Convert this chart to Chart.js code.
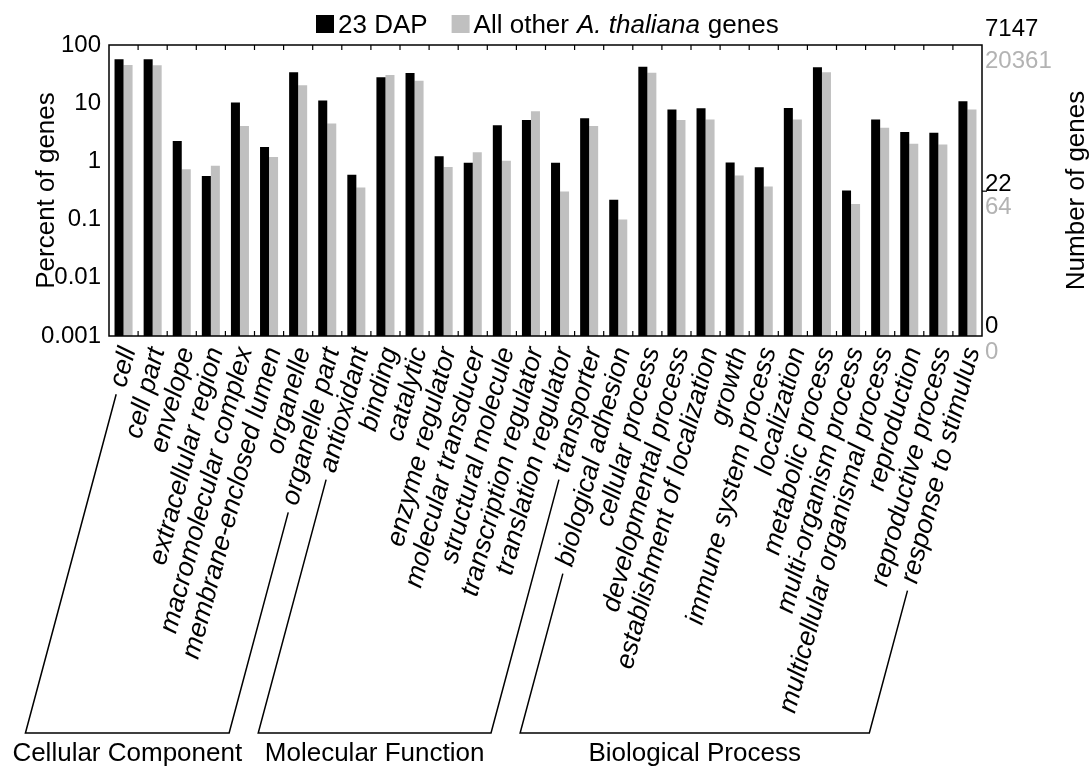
<!DOCTYPE html>
<html>
<head>
<meta charset="utf-8">
<title>GO categories, 23 DAP</title>
<script src="https://cdn.jsdelivr.net/npm/chart.js@4.4.0/dist/chart.umd.min.js"></script>
<style>
  html, body { margin: 0; padding: 0; background: #fff; }
  #wrap { width: 1092px; height: 767px; position: relative; }
</style>
</head>
<body>
<div id="wrap"><canvas id="chart"></canvas></div>
<script>
const categories = [
  "cell", "cell part", "envelope", "extracellular region", "macromolecular complex",
  "membrane-enclosed lumen", "organelle", "organelle part",
  "antioxidant", "binding", "catalytic", "enzyme regulator", "molecular transducer",
  "structural molecule", "transcription regulator", "translation regulator", "transporter",
  "biological adhesion", "cellular process", "developmental process",
  "establishment of localization", "growth", "immune system process", "localization",
  "metabolic process", "multi-organism process", "multicellular organismal process",
  "reproduction", "reproductive process", "response to stimulus"
];

// percent of genes
const dap23 = [
  57, 57, 2.24, 0.56, 10.3, 1.76, 33.9, 11.1,
  0.59, 27.8, 33, 1.22, 0.95, 4.16, 5.14, 0.95, 5.49,
  0.22, 42.4, 7.83, 8.15, 0.96, 0.79, 8.26, 41.3, 0.317, 5.27, 3.19, 3.11, 10.8
];
const allOther = [
  45.3, 45, 0.73, 0.84, 4.05, 1.19, 20.3, 4.5,
  0.357, 30.5, 24.4, 0.80, 1.43, 1.03, 7.24, 0.305, 4.05,
  0.10, 33.4, 5.14, 5.27, 0.574, 0.37, 5.27, 33.9, 0.185, 3.79, 2.01, 1.96, 7.83
];

const leftTicks = [0.001, 0.01, 0.1, 1, 10, 100];
const leftTickLabels = ["0.001", "0.01", "0.1", "1", "10", "100"];

// right axis: number of genes
const rightCounts23 = [0, 22, 7147];
const rightCountsOther = [0, 64, 20361];
const total23 = 7147;

const groupNames = ["Cellular Component", "Molecular Function", "Biological Process"];
const groupFirst = [0, 8, 17];
const groupLast = [7, 16, 29];

const FONT = '"Liberation Sans", Arial, Helvetica, sans-serif';
const BLACK = '#000000';
const GRAY = '#c0c0c0';
const GRAY_TEXT = '#b3b3b3';
const ROT = 75 * Math.PI / 180;
const LABEL_SIZE = 26.5;
const LABEL_OFFSET = 5;
const LABEL_PAD = 8;
const BRACKET_Y = 733;
const BLACK_LIFT = [3, 0, 9]; // how far the black count sits above its tick

function pctForCount(c) {
  return c === 0 ? leftTicks[0] : c / total23 * 100;
}

// where chart.js puts the upper end of a rotated x label
function labelEnd(chart, i) {
  const x = chart.scales.x;
  const lh = LABEL_SIZE * 1.2;
  return { x: x.getPixelForValue(i) + LABEL_OFFSET, y: x.top + LABEL_PAD + Math.cos(ROT) * lh / 2 };
}

function bracketLeg(ctx, chart, i) {
  const r = labelEnd(chart, i);
  ctx.font = 'italic ' + LABEL_SIZE + 'px ' + FONT;
  const w = ctx.measureText(categories[i]).width + 8;
  const dx = -Math.cos(ROT), dy = Math.sin(ROT);
  const sx = r.x + dx * w, sy = r.y + dy * w;
  const ex = sx + dx * (BRACKET_Y - sy) / dy;
  return { sx, sy, ex };
}

const decor = {
  id: 'decor',
  afterDraw(chart) {
    const { ctx, chartArea: a, scales: { x, y2 } } = chart;
    ctx.save();

    // frame
    ctx.strokeStyle = BLACK;
    ctx.lineWidth = 1.5;
    ctx.strokeRect(a.left, a.top, a.right - a.left, a.bottom - a.top);

    // inward ticks between categories
    ctx.lineWidth = 1.2;
    ctx.beginPath();
    for (let i = 1; i < categories.length; i++) {
      const bx = (x.getPixelForValue(i - 1) + x.getPixelForValue(i)) / 2;
      ctx.moveTo(bx, a.top); ctx.lineTo(bx, a.top + 5);
      ctx.moveTo(bx, a.bottom); ctx.lineTo(bx, a.bottom - 5);
    }
    ctx.stroke();

    // right axis, two colour labels
    ctx.font = '24px ' + FONT;
    ctx.textAlign = 'left';
    ctx.textBaseline = 'alphabetic';
    rightCounts23.forEach((c, k) => {
      const py = y2.getPixelForValue(pctForCount(c));
      if (k > 0 && k < rightCounts23.length - 1) {
        ctx.beginPath();
        ctx.moveTo(a.right, py); ctx.lineTo(a.right + 5, py);
        ctx.stroke();
      }
      ctx.fillStyle = BLACK;
      ctx.fillText(String(c), a.right + 3, py - BLACK_LIFT[k]);
      ctx.fillStyle = GRAY_TEXT;
      ctx.fillText(String(rightCountsOther[k]), a.right + 3, py + 23);
    });

    // right axis title, reading upwards
    ctx.save();
    ctx.translate(1077, (a.top + a.bottom) / 2);
    ctx.rotate(-Math.PI / 2);
    ctx.fillStyle = BLACK;
    ctx.font = '26px ' + FONT;
    ctx.textAlign = 'center';
    ctx.textBaseline = 'middle';
    ctx.fillText('Number of genes', 0, 0);
    ctx.restore();

    // legend
    const parts = [
      { box: BLACK }, { t: '23 DAP' }, { gap: 24 }, { box: GRAY },
      { t: 'All other' }, { gap: 8 }, { t: 'A. thaliana', it: true }, { gap: 8 }, { t: 'genes' }
    ];
    const fontOf = p => (p.it ? 'italic ' : '') + '26px ' + FONT;
    let lx = 316;
    ctx.textAlign = 'left';
    ctx.textBaseline = 'alphabetic';
    parts.forEach(p => {
      if (p.box) {
        ctx.fillStyle = p.box;
        ctx.fillRect(lx, 15, 18, 18);
        lx += 18 + 4;
      } else if (p.gap) {
        lx += p.gap;
      } else {
        ctx.font = fontOf(p);
        ctx.fillStyle = BLACK;
        ctx.fillText(p.t, lx, 33);
        lx += ctx.measureText(p.t).width;
      }
    });

    // group brackets
    ctx.strokeStyle = BLACK;
    ctx.lineWidth = 1.5;
    groupNames.forEach((name, g) => {
      const l = bracketLeg(ctx, chart, groupFirst[g]);
      const r = bracketLeg(ctx, chart, groupLast[g]);
      ctx.beginPath();
      ctx.moveTo(l.sx, l.sy);
      ctx.lineTo(l.ex, BRACKET_Y);
      ctx.lineTo(r.ex, BRACKET_Y);
      ctx.lineTo(r.sx, r.sy);
      ctx.stroke();
      ctx.font = '26px ' + FONT;
      ctx.fillStyle = BLACK;
      ctx.textAlign = 'center';
      ctx.textBaseline = 'alphabetic';
      ctx.fillText(name, (l.ex + r.ex) / 2, BRACKET_Y + 28);
    });

    ctx.restore();
  }
};

new Chart(document.getElementById('chart'), {
  type: 'bar',
  data: {
    labels: categories,
    datasets: [
      { label: '23 DAP', data: dap23, backgroundColor: BLACK, borderWidth: 0, yAxisID: 'y' },
      { label: 'All other A. thaliana genes', data: allOther, backgroundColor: GRAY, borderWidth: 0, yAxisID: 'y' }
    ]
  },
  options: {
    responsive: true,
    maintainAspectRatio: false,
    animation: false,
    devicePixelRatio: 1,
    layout: { padding: { top: 45, left: 0, right: 0, bottom: 0 } },
    datasets: { bar: { categoryPercentage: 0.62, barPercentage: 1.0 } },
    plugins: {
      legend: { display: false },
      tooltip: { enabled: false }
    },
    scales: {
      x: {
        type: 'category',
        grid: { display: false, drawTicks: false },
        border: { display: false },
        afterFit: s => { s.height = 767 - 336; },
        ticks: {
          autoSkip: false,
          minRotation: 75,
          maxRotation: 75,
          labelOffset: LABEL_OFFSET,
          padding: LABEL_PAD,
          color: BLACK,
          font: { size: LABEL_SIZE, style: 'italic', family: FONT }
        }
      },
      y: {
        type: 'logarithmic',
        position: 'left',
        min: 0.001,
        max: 100,
        afterBuildTicks: s => { s.ticks = leftTicks.map(v => ({ value: v })); },
        afterFit: s => { s.width = 109; },
        grid: { display: false, drawTicks: false },
        border: { display: false },
        ticks: {
          autoSkip: false,
          padding: 8,
          color: BLACK,
          font: { size: 24, family: FONT },
          callback: (v, i) => leftTickLabels[i]
        },
        title: {
          display: true,
          text: 'Percent of genes',
          color: BLACK,
          font: { size: 26, family: FONT },
          padding: { top: 31, bottom: 0 }
        }
      },
      y2: {
        type: 'logarithmic',
        position: 'right',
        min: 0.001,
        max: 100,
        afterBuildTicks: s => { s.ticks = rightCounts23.map(c => ({ value: pctForCount(c) })); },
        afterFit: s => { s.width = 110; },
        grid: { display: false, drawTicks: false },
        border: { display: false },
        ticks: { display: false }
      }
    }
  },
  plugins: [decor]
});
</script>
</body>
</html>
